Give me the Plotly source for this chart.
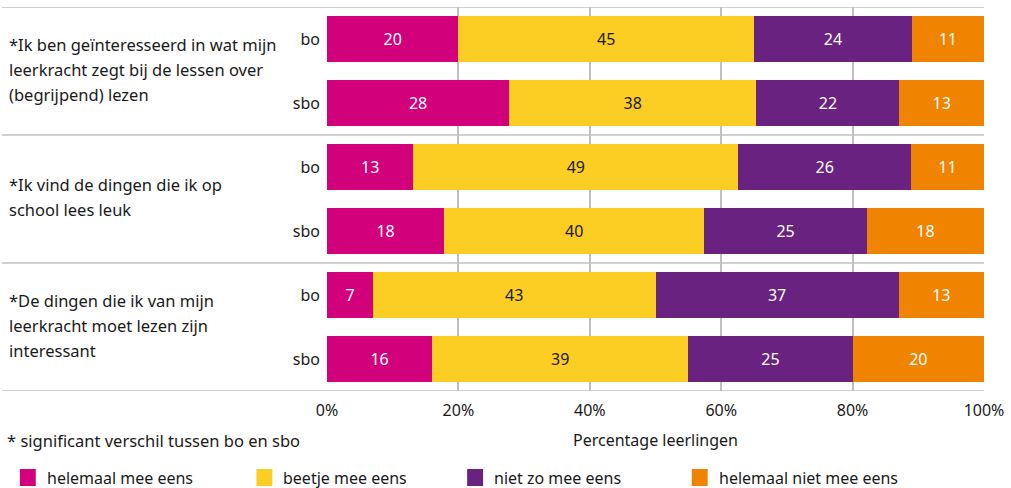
import plotly.graph_objects as go

# rows, top to bottom
row_ids = ["g1_bo", "g1_sbo", "g2_bo", "g2_sbo", "g3_bo", "g3_sbo"]
row_labels = ["bo", "sbo", "bo", "sbo", "bo", "sbo"]

group_labels = [
    "*Ik ben geïnteresseerd in wat mijn<br>leerkracht zegt bij de lessen over<br>(begrijpend) lezen",
    "*Ik vind de dingen die ik op<br>school lees leuk",
    "*De dingen die ik van mijn<br>leerkracht moet lezen zijn<br>interessant",
]

categories = ["helemaal mee eens", "beetje mee eens", "niet zo mee eens", "helemaal niet mee eens"]
helemaal_mee = [20, 28, 13, 18, 7, 16]
beetje_mee = [45, 38, 49, 40, 43, 39]
niet_zo_mee = [24, 22, 26, 25, 37, 25]
helemaal_niet = [11, 13, 11, 18, 13, 20]
series = [helemaal_mee, beetje_mee, niet_zo_mee, helemaal_niet]

colors = ["#d2007a", "#fccd22", "#6a2280", "#f08300"]
text_colors = ["white", "#1a1a1a", "white", "white"]

FONT = "Noto Sans"
GRID = "#c0c0c0"

fig = go.Figure()
for name, vals, col, tcol in zip(categories, series, colors, text_colors):
    fig.add_trace(go.Bar(
        y=row_ids, x=vals, name=name, orientation="h",
        marker=dict(color=col, line=dict(width=0)),
        text=vals, textposition="inside", insidetextanchor="middle",
        textfont=dict(color=tcol, size=16, family=FONT),
        width=0.72, hoverinfo="skip", showlegend=False,
    ))

L, R, T, B = 327, 23, 7, 97
W, H = 1011, 488
pw = W - L - R
ph = H - T - B
left_edge = -L / pw


def py(pix):
    # page pixel row -> paper y
    return (ph + T - pix) / ph


fig.update_layout(
    barmode="stack", barnorm="percent",
    width=W, height=H,
    margin=dict(l=L, r=R, t=T, b=B),
    plot_bgcolor="white", paper_bgcolor="white",
    font=dict(family=FONT, size=16, color="#1a1a1a"),
    xaxis=dict(range=[0, 100], tickvals=[0, 20, 40, 60, 80, 100],
               ticktext=["0%", "20%", "40%", "60%", "80%", "100%"],
               showgrid=True, gridcolor=GRID, gridwidth=1.5, zeroline=False,
               ticks="", ticklabelstandoff=8, showline=False,
               ticklabeloverflow="allow",
               title=dict(text="Percentage leerlingen", standoff=14, font=dict(size=16))),
    yaxis=dict(categoryorder="array", categoryarray=row_ids,
               range=[5.5, -0.5], tickvals=row_ids, ticktext=row_labels,
               ticks="", ticklabelstandoff=6, showgrid=False, zeroline=False,
               tickfont=dict(size=16)),
)

# horizontal separator lines between the groups
for yv in [-0.5, 1.5, 3.5, 5.5]:
    fig.add_shape(type="line", xref="paper", yref="y", x0=left_edge, x1=1, y0=yv, y1=yv,
                  line=dict(color=GRID, width=1.5), layer="below")

# group labels, one annotation per line to control line spacing
for gi, lab in enumerate(group_labels):
    lines = lab.split("<br>")
    n = len(lines)
    for j, ln in enumerate(lines):
        fig.add_annotation(xref="paper", yref="y", x=left_edge + 5 / pw, y=gi * 2 + 0.5,
                           text=ln, showarrow=False, xanchor="left", yanchor="middle",
                           yshift=((n - 1) / 2 - j) * 25 + 2, font=dict(size=16.5))

# footnote
fig.add_annotation(xref="paper", yref="paper", x=left_edge + 3 / pw, y=py(440),
                   text="* significant verschil tussen bo en sbo", showarrow=False,
                   xanchor="left", yanchor="middle", font=dict(size=16.5))

# legend drawn by hand
legend_x = [18, 256, 468, 694]
for xpos, name, col in zip(legend_x, categories, colors):
    fig.add_shape(type="rect", xref="paper", yref="paper",
                  x0=(xpos - L) / pw, x1=(xpos + 16 - L) / pw,
                  y0=py(486), y1=py(469), line=dict(width=0), fillcolor=col)
    fig.add_annotation(xref="paper", yref="paper", x=(xpos + 25 - L) / pw,
                       y=py(477.5), text=name, showarrow=False,
                       xanchor="left", yanchor="middle", font=dict(size=16))

fig.write_html(
    "out.html", config={"displayModeBar": False},
    post_script="document.body.style.margin='0';"
                "document.body.style.overflow='hidden';"
                "document.documentElement.style.overflow='hidden';",
)
